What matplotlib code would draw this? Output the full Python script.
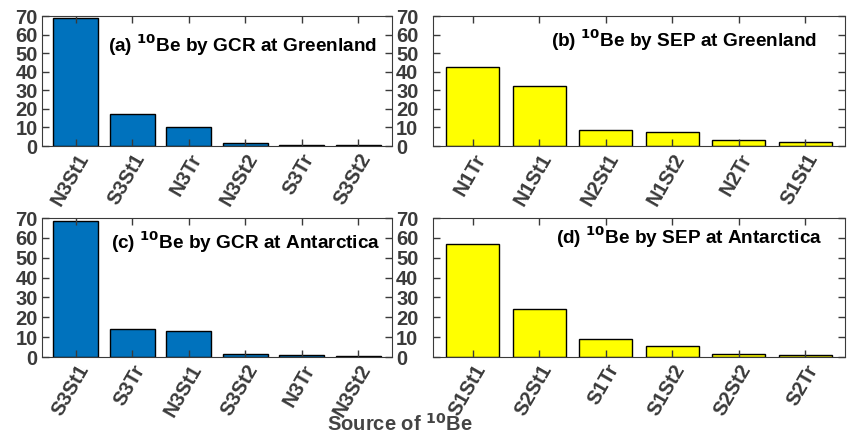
import matplotlib.pyplot as plt
import numpy as np

plt.rcParams['font.family'] = ['Liberation Sans', 'DejaVu Sans']
plt.rcParams['font.weight'] = 'bold'

# panel data (percent contribution)
cats_a = ['N3St1', 'S3St1', 'N3Tr', 'N3St2', 'S3Tr', 'S3St2']
vals_a = [68.8, 17.1, 10.1, 1.5, 0.7, 0.4]
cats_b = ['N1Tr', 'N1St1', 'N2St1', 'N1St2', 'N2Tr', 'S1St1']
vals_b = [42.7, 32.5, 8.4, 7.4, 3.0, 2.3]
cats_c = ['S3St1', 'S3Tr', 'N3St1', 'S3St2', 'N3Tr', 'N3St2']
vals_c = [68.3, 14.0, 13.0, 1.4, 0.8, 0.3]
cats_d = ['S1St1', 'S2St1', 'S1Tr', 'S1St2', 'S2St2', 'S2Tr']
vals_d = [56.7, 24.3, 9.0, 5.3, 1.7, 1.0]

titles = ['(a) $\\mathbf{^{10}}$Be by GCR at Greenland',
          '(b) $\\mathbf{^{10}}$Be by SEP at Greenland',
          '(c) $\\mathbf{^{10}}$Be by GCR at Antarctica',
          '(d) $\\mathbf{^{10}}$Be by SEP at Antarctica']

blue = '#0072BD'
yellow = '#FFFF00'
grey = '#3a3a3a'

W, H = 851, 436
fig = plt.figure(figsize=(W / 100, H / 100), dpi=100)

# axes boxes in pixels: left, top, right, bottom
boxes = [(42, 16, 392, 146), (433, 16, 845, 146),
         (42, 218, 392, 357), (433, 218, 845, 357)]
data = [(cats_a, vals_a, blue), (cats_b, vals_b, yellow),
        (cats_c, vals_c, blue), (cats_d, vals_d, yellow)]
title_pos = [(377, 45), (817, 40), (380, 242), (822, 237)]

for i, ((l, t, r, b), (cats, vals, col)) in enumerate(zip(boxes, data)):
    ax = fig.add_axes([l / W, 1 - b / H, (r - l) / W, (b - t) / H])
    x = np.arange(len(cats))
    ax.bar(x, vals, width=0.8, color=col, edgecolor='black', linewidth=1)
    ax.set_xlim(-0.6, len(cats) - 0.4)
    ax.set_ylim(0, 70)
    ax.set_yticks(range(0, 71, 10))
    ax.set_xticks(x)
    ax.set_xticklabels(cats, rotation=60, ha='right', rotation_mode='anchor')
    ax.tick_params(direction='in', top=True, right=True, length=5,
                   labelsize=14.5, colors=grey, width=1, pad=3)
    if i % 2 == 1:
        ax.tick_params(labelleft=False)
    else:
        ax.tick_params(labelright=True)
    for lab in ax.get_xticklabels() + ax.get_yticklabels():
        lab.set_fontweight('bold')
    for s in ax.spines.values():
        s.set_color(grey)
    tx, ty = title_pos[i]
    fig.text(tx / W, 1 - ty / H, titles[i], ha='right', va='center',
             fontsize=13.7, fontweight='bold', color='black')

fig.text(400 / W, 1 - 424 / H, 'Source of $\\mathbf{^{10}}$Be', ha='center',
         va='center', fontsize=14.5, fontweight='bold', color='#444444')

fig.savefig('out.png', dpi=100)
